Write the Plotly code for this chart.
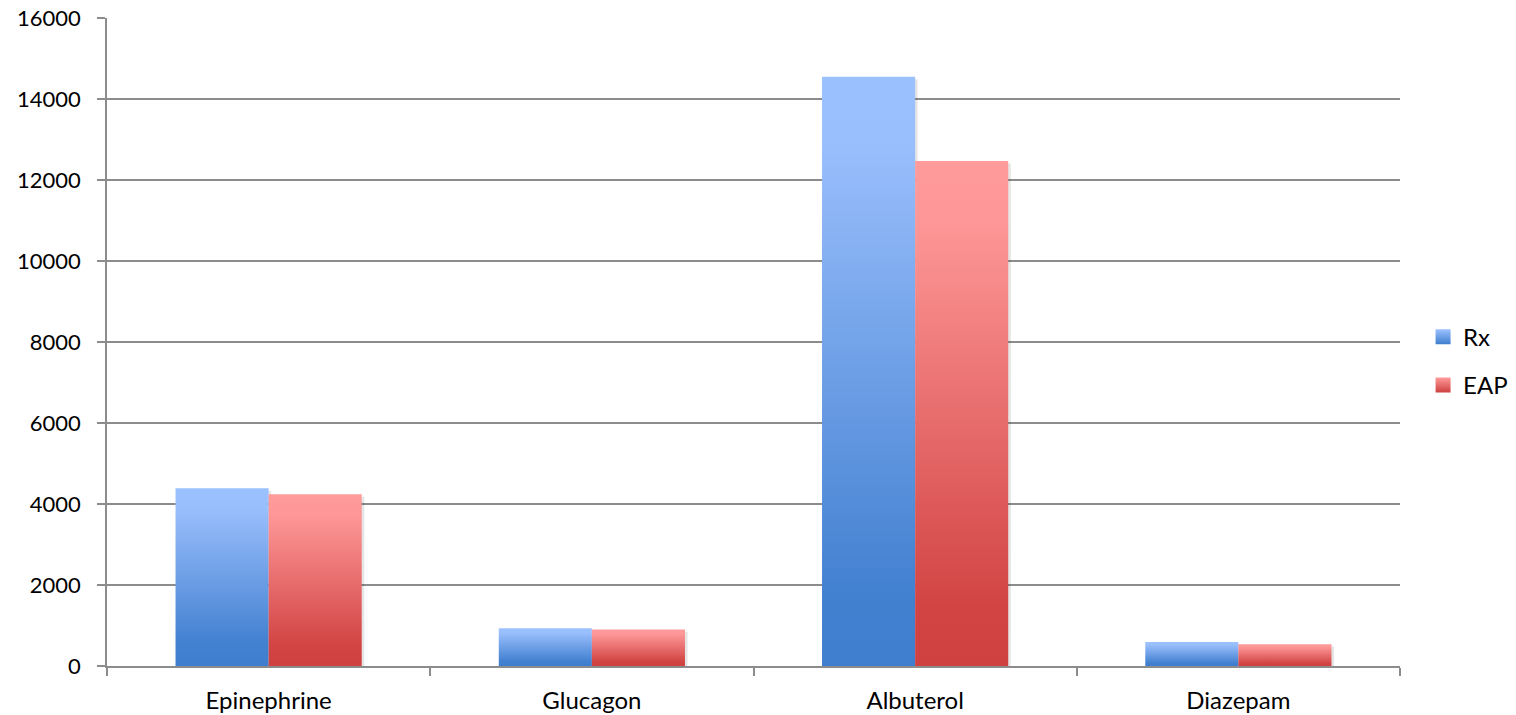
import plotly.graph_objects as go

categories = ["Epinephrine", "Glucagon", "Albuterol", "Diazepam"]
rx_values = [4390, 930, 14550, 590]
eap_values = [4240, 900, 12470, 540]
series_names = ["Rx", "EAP"]

y_ticks = [0, 2000, 4000, 6000, 8000, 10000, 12000, 14000, 16000]
y_tick_labels = [str(t) for t in y_ticks]

blue_scale = [[0, "#3F7ECE"], [0.12, "#4280D0"], [0.88, "#99BEFC"], [1, "#9CC1FF"]]
red_scale = [[0, "#CF4040"], [0.12, "#D24444"], [0.88, "#FE9797"], [1, "#FF9B9B"]]
legend_light = ["#9CC1FF", "#FF9B9B"]
legend_dark = ["#3F7ECE", "#CF4040"]

bar_w = 0.288

fig = go.Figure()

series = [(rx_values, blue_scale, -1), (eap_values, red_scale, 1)]
for s_idx, (vals, scale, side) in enumerate(series):
    for i, v in enumerate(vals):
        x0 = i if side > 0 else i - bar_w
        x1 = i + bar_w if side > 0 else i
        # subtle shadow
        fig.add_trace(go.Scatter(
            x=[x0 + 0.006, x1 + 0.008, x1 + 0.008, x0 + 0.006, x0 + 0.006],
            y=[-60, -60, v - 60, v - 60, -60],
            mode="lines", line=dict(width=0), fill="toself",
            fillcolor="rgba(0,0,0,0.10)", showlegend=False, hoverinfo="skip"))
        fig.add_trace(go.Scatter(
            x=[x0, x1, x1, x0, x0],
            y=[0, 0, v, v, 0],
            mode="lines", line=dict(width=0), fill="toself",
            fillgradient=dict(type="vertical", colorscale=scale),
            name=series_names[s_idx], showlegend=False,
            hovertemplate=f"{categories[i]}<br>{series_names[s_idx]}: {v}<extra></extra>"))

for s_idx, name in enumerate(series_names):
    fig.add_trace(go.Scatter(x=[None], y=[None], name=name, mode="markers",
                             marker=dict(symbol="square", size=15,
                                         color=legend_light[s_idx],
                                         line=dict(width=0),
                                         gradient=dict(type="vertical",
                                                       color=legend_dark[s_idx])),
                             legendgroup=name))

fig.update_layout(
    width=1516, height=715,
    autosize=False,
    margin=dict(l=107, r=116, t=18, b=49),
    paper_bgcolor="white", plot_bgcolor="white",
    font=dict(family="Lato, Carlito, Calibri, sans-serif", size=22, color="black"),
    showlegend=True,
    legend=dict(xref="container", yref="container", x=0.9387, y=0.495,
                xanchor="left", yanchor="middle",
                font=dict(size=24), tracegroupgap=14, itemwidth=30,
                bgcolor="rgba(0,0,0,0)"),
    xaxis=dict(range=[-0.5, 3.5], tickmode="array", tickvals=[0, 1, 2, 3],
               ticktext=categories, ticks="", showgrid=False, zeroline=False,
               showline=True, linecolor="#8c8c8c", linewidth=1.5, automargin=False,
               tickfont=dict(size=24),
               minor=dict(tickmode="array", tickvals=[-0.5, 0.5, 1.5, 2.5, 3.5],
                          ticks="outside", ticklen=8, tickcolor="#8c8c8c",
                          tickwidth=1.5, showgrid=False),
               ticklabelstandoff=12),
    yaxis=dict(range=[0, 16000], tickmode="array", tickvals=y_ticks,
               ticktext=y_tick_labels, automargin=False,
               ticks="outside", ticklen=8, tickcolor="#8c8c8c", tickwidth=1.5,
               showgrid=True, gridcolor="#8c8c8c", gridwidth=1.5,
               zeroline=False, showline=True, linecolor="#8c8c8c", linewidth=1.5,
               ticklabelstandoff=12),
)

fig.write_html(
    "out.html",
    config={"responsive": False, "displayModeBar": False},
    post_script="document.body.style.margin='0px';document.body.style.overflow='hidden';"
                "Plotly.relayout('{plot_id}', {width:1516, height:715});",
)
